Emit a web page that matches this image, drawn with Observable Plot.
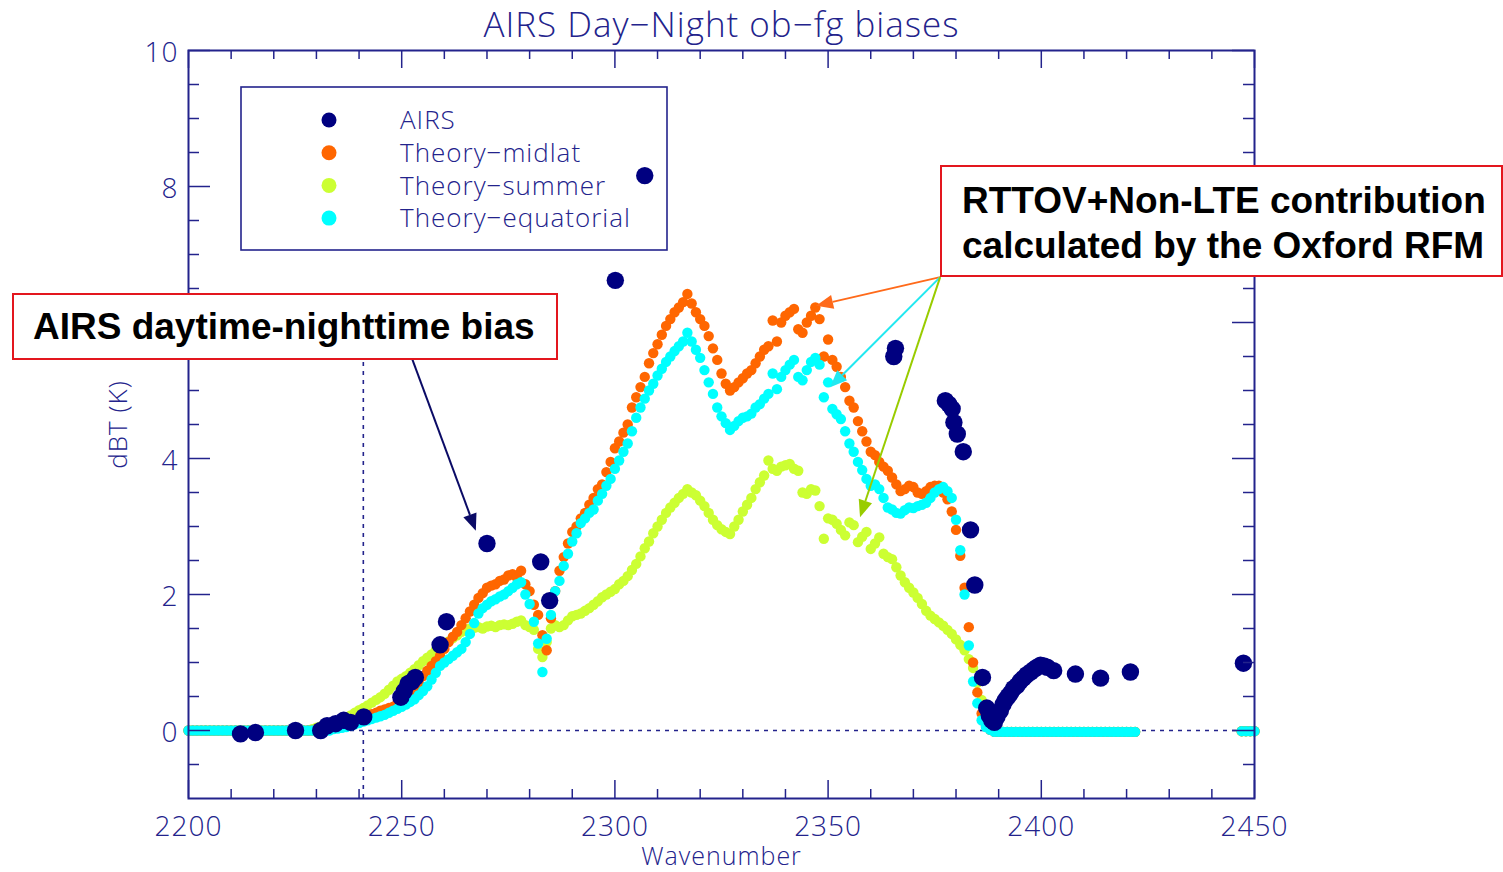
<!DOCTYPE html>
<html><head><meta charset="utf-8">
<script src="https://cdn.jsdelivr.net/npm/d3@7"></script>
<script src="https://cdn.jsdelivr.net/npm/@observablehq/plot@0.6"></script>
<style>
html,body{margin:0;padding:0;background:#fff;}
#wrap{position:relative;width:1503px;height:872px;overflow:hidden;}
#wrap svg{position:absolute;left:0;top:0;}
.note{position:absolute;background:#fff;border:2px solid #e3161e;box-sizing:border-box;font-family:'Liberation Sans',Arial,sans-serif;font-weight:bold;color:#000;font-size:37px;white-space:nowrap;}
</style></head><body><div id="wrap"></div>
<script>
// ---------- chart data ----------
const seriesNames = ["AIRS", "Theory−midlat", "Theory−summer", "Theory−equatorial"];
const seriesColors = ["#000080", "#ff6600", "#ccff33", "#00ffff"];

const theoryWn = [
2200,2201,2202,2203,2204,2205,2206,2207,2208,2209,
2210,2211,2212,2213,2214,2215,2216,2217,2218,2219,
2220,2221,2222,2223,2224,2225,2226,2227,2228,2229,
2230,2231,2232,2233,2234,2235,2236,2237,2238,2239,
2240,2241,2242,2243,2244,2245,2246,2247,2248,2249,
2250,2251,2252,2253,2254,2255,2256,2257,2258,2259,
2260,2261,2262,2263,2264,2265,2266,2267,2268,2269,
2270,2271,2272,2273,2274,2275,2276,2277,2278,2279,
2280,2281,2282,2283,2284,2285,2286,2287,2288,2289,
2290,2291,2292,2293,2294,2295,2296,2297,2298,2299,
2300,2301,2302,2303,2304,2305,2306,2307,2308,2309,
2310,2311,2312,2313,2314,2315,2316,2317,2318,2319,
2320,2321,2322,2323,2324,2325,2326,2327,2328,2329,
2330,2331,2332,2333,2334,2335,2336,2337,2338,2339,
2340,2341,2342,2343,2344,2345,2346,2347,2348,2349,
2350,2351,2352,2353,2354,2355,2356,2357,2358,2359,
2360,2361,2362,2363,2364,2365,2366,2367,2368,2369,
2370,2371,2372,2373,2374,2375,2376,2377,2378,2379,
2380,2381,2382,2383,2384,2385,2386,2387,2388,2389,
2390,2391,2392,2393,2394,2395,2396,2397,2398,2399,
2400,2401,2402,2403,2404,2405,2406,2407,2408,2409,
2410,2411,2412,2413,2414,2415,2416,2417,2418,2419,
2420,2421,2422,
2447,2448,2449,2450];

const midlatDbt = [
0,0,0,0,0,0,0,0,0,0,
0,0,0,0,0,0,0,0,0,0,
0,0,0,0,0,0,0,0,0,0,
0,0.01,0.02,0.03,0.05,0.07,0.09,0.11,0.13,0.15,
0.17,0.19,0.21,0.24,0.26,0.29,0.31,0.33,0.35,0.4,
0.45,0.5,0.55,0.62,0.7,0.8,0.88,0.95,1.02,1.1,
1.2,1.3,1.38,1.45,1.55,1.65,1.75,1.85,1.95,2.02,
2.1,2.13,2.15,2.2,2.22,2.28,2.3,2.25,2.35,2.15,
2.05,1.85,1.7,1.4,1.18,1.65,2.05,2.35,2.55,2.75,
2.92,3.0,3.12,3.2,3.32,3.42,3.55,3.62,3.8,3.95,
4.15,4.25,4.38,4.5,4.75,4.9,5.05,5.2,5.4,5.55,
5.68,5.82,5.95,6.05,6.15,6.22,6.3,6.42,6.28,6.15,
6.05,5.95,5.8,5.62,5.45,5.25,5.1,5.0,5.05,5.12,
5.18,5.25,5.3,5.4,5.5,5.6,5.65,6.03,5.72,6.0,
6.1,6.15,6.2,5.9,5.85,6.0,6.1,6.22,6.05,5.5,
5.75,5.45,5.35,5.2,5.05,4.85,4.75,4.55,4.4,4.25,
4.1,4.05,3.95,3.88,3.82,3.72,3.62,3.52,3.55,3.6,
3.58,3.5,3.48,3.52,3.58,3.6,3.6,3.5,3.4,3.22,
2.95,2.57,2.1,1.52,1.0,0.56,0.25,0.08,0.01,-0.02,
-0.02,-0.02,-0.02,-0.02,-0.02,-0.02,-0.02,-0.02,-0.02,-0.02,
-0.02,-0.02,-0.02,-0.02,-0.02,-0.02,-0.02,-0.02,-0.02,-0.02,
-0.02,-0.02,-0.02,-0.02,-0.02,-0.02,-0.02,-0.02,-0.02,-0.02,
-0.02,-0.02,-0.02,
-0.01,-0.01,-0.01,-0.01];

const summerDbt = [
0,0,0,0,0,0,0,0,0,0,
0,0,0,0,0,0,0,0,0,0,
0,0,0,0,0,0,0,0,0,0.02,
0.04,0.06,0.08,0.1,0.11,0.13,0.16,0.19,0.22,0.26,
0.3,0.33,0.37,0.41,0.45,0.49,0.54,0.6,0.66,0.72,
0.76,0.8,0.85,0.9,0.96,1.02,1.07,1.12,1.18,1.22,
1.27,1.31,1.36,1.4,1.45,1.49,1.5,1.51,1.52,1.5,
1.53,1.54,1.52,1.55,1.56,1.55,1.57,1.6,1.62,1.55,
1.52,1.48,1.2,1.08,1.3,1.5,1.55,1.52,1.55,1.62,
1.68,1.7,1.72,1.76,1.8,1.85,1.9,1.96,2.0,2.04,
2.08,2.15,2.2,2.27,2.36,2.45,2.56,2.68,2.78,2.9,
3.0,3.1,3.2,3.28,3.35,3.42,3.48,3.55,3.5,3.46,
3.38,3.3,3.2,3.1,3.02,2.96,2.92,2.89,3.0,3.1,
3.22,3.32,3.42,3.55,3.65,3.75,3.97,3.85,3.82,3.88,
3.9,3.92,3.85,3.82,3.5,3.48,3.55,3.53,3.3,2.82,
3.12,3.1,3.04,2.95,2.87,3.06,3.02,2.77,2.85,2.92,
2.67,2.75,2.84,2.6,2.55,2.52,2.4,2.28,2.18,2.1,
2.03,1.95,1.86,1.76,1.69,1.64,1.59,1.54,1.48,1.42,
1.34,1.26,1.18,1.05,0.92,0.7,0.45,0.22,0.08,0.0,
-0.02,-0.02,-0.02,-0.02,-0.02,-0.02,-0.02,-0.02,-0.02,-0.02,
-0.02,-0.02,-0.02,-0.02,-0.02,-0.02,-0.02,-0.02,-0.02,-0.02,
-0.02,-0.02,-0.02,-0.02,-0.02,-0.02,-0.02,-0.02,-0.02,-0.02,
-0.02,-0.02,-0.02,
-0.01,-0.01,-0.01,-0.01];

const equatorialDbt = [
0,0,0,0,0,0,0,0,0,0,
0,0,0,0,0,0,0,0,0,0,
0,0,0,0,0,0,0,0,0,0,
0,0,0,0,0.02,0.03,0.04,0.05,0.07,0.09,
0.11,0.13,0.15,0.17,0.19,0.21,0.23,0.26,0.29,0.32,
0.35,0.38,0.42,0.46,0.52,0.58,0.65,0.75,0.85,0.95,
1.0,1.05,1.1,1.15,1.2,1.3,1.42,1.58,1.72,1.8,
1.85,1.9,1.93,1.97,2.0,2.05,2.1,2.15,2.18,2.0,
1.86,1.6,1.28,0.86,1.35,1.7,2.05,2.2,2.42,2.6,
2.78,2.9,3.05,3.12,3.2,3.25,3.38,3.48,3.6,3.7,
3.85,3.97,4.1,4.22,4.4,4.6,4.75,4.88,5.0,5.1,
5.22,5.32,5.42,5.5,5.58,5.65,5.72,5.85,5.72,5.6,
5.48,5.3,5.12,4.95,4.75,4.62,4.52,4.42,4.48,4.55,
4.6,4.62,4.66,4.75,4.8,4.88,4.95,5.25,5.02,5.2,
5.3,5.38,5.45,5.2,5.15,5.3,5.42,5.48,5.38,4.9,
5.12,4.73,4.65,4.58,4.4,4.22,4.1,3.95,3.83,3.7,
3.6,3.62,3.55,3.42,3.28,3.25,3.2,3.19,3.24,3.28,
3.27,3.3,3.32,3.35,3.42,3.5,3.55,3.58,3.52,3.42,
3.1,2.65,2.0,1.25,0.72,0.4,0.15,0.05,0.01,-0.02,
-0.02,-0.02,-0.02,-0.02,-0.02,-0.02,-0.02,-0.02,-0.02,-0.02,
-0.02,-0.02,-0.02,-0.02,-0.02,-0.02,-0.02,-0.02,-0.02,-0.02,
-0.02,-0.02,-0.02,-0.02,-0.02,-0.02,-0.02,-0.02,-0.02,-0.02,
-0.02,-0.02,-0.02,
-0.01,-0.01,-0.01,-0.01];

const airsWn = [2212.2,2215.7,2225.1,2231.0,2232.5,2234.5,2236.4,2238.0,2241.1,
  2249.8,2250.6,2251.5,2252.4,2253.2,2259.0,2260.5,2270.0,2282.6,2284.7,
  2300.1,2307.0,2365.4,2365.8,2377.5,2378.3,2379.1,2379.5,2380.3,2381.7,
  2383.4,2384.4,2386.2,2387.2,2387.8,2388.4,2389.0,2389.6,2390.4,2391.0,
  2391.6,2392.2,2392.8,2393.5,2394.3,2395.0,2395.8,2396.6,2397.5,2398.3,
  2399.0,2399.8,2400.6,2401.4,2402.9,2408.0,2413.9,2420.9,2447.4];
const airsDbt = [-0.05,-0.03,0.0,0.0,0.07,0.1,0.15,0.12,0.2,
  0.49,0.58,0.69,0.72,0.78,1.26,1.6,2.75,2.48,1.91,
  6.62,8.16,5.5,5.62,4.85,4.8,4.73,4.53,4.36,4.1,
  2.95,2.14,0.78,0.33,0.22,0.15,0.12,0.2,0.29,0.38,
  0.45,0.5,0.55,0.62,0.66,0.72,0.77,0.82,0.86,0.9,
  0.93,0.96,0.95,0.93,0.88,0.83,0.77,0.86,0.99];

// axis ticks (the "6" label is hidden behind the annotation box in the reference)
const xMajorTicks = [2200,2250,2300,2350,2400,2450];
const xMinorTicks = [2210,2220,2230,2240,2260,2270,2280,2290,2310,2320,2330,2340,2360,2370,2380,2390,2410,2420,2430,2440];
const yMajorTicks = [0,2,4,6,8,10];
const yMinorTicks = [-0.5,0.5,1,1.5,2.5,3,3.5,4.5,5,5.5,6.5,7,7.5,8.5,9,9.5];
const yLabelTicks = [0,2,4,8,10];

// reference lines
const zeroLine = [0];
const refLineWn = [2241];
const refLineSpan = [-1, 5.5];

// text
const titleText = ["AIRS Day−Night ob−fg biases"];
const xLabel = ["Wavenumber"];
const yLabel = ["dBT (K)"];
const noteLeft = "AIRS daytime-nighttime bias";
const noteRight = ["RTTOV+Non-LTE contribution", "calculated by the Oxford RFM"];

// annotation arrows (data coordinates)
const arrowColors = ["#0b0b66", "#ff6a1a", "#22e8f0", "#99cc00"];
const arrowFromWn = [2252.5, 2376.4, 2376.4, 2376.4];
const arrowFromDbt = [5.47, 6.66, 6.66, 6.66];
const arrowToWn = [2267.5, 2347.3, 2350.6, 2357.6];
const arrowToDbt = [2.93, 6.24, 5.04, 3.13];

// ---------- build ----------
const navy = "#23238c";
const W = 1503, H = 872;
const mL = 188, mR = 249, mT = 50, mB = 74;
const innerW = W - mL - mR, innerH = H - mT - mB;

const mk = (arr) => theoryWn.map((w, i) => ({wn: w, dbt: arr[i]}));
const midlat = mk(midlatDbt), summer = mk(summerDbt), equatorial = mk(equatorialDbt);
const airs = airsWn.map((w, i) => ({wn: w, dbt: airsDbt[i]}));

const plot = Plot.plot({
  width: W, height: H,
  marginLeft: mL, marginRight: mR, marginTop: mT, marginBottom: mB,
  x: {domain: [2200, 2450], axis: null},
  y: {domain: [-1, 10], axis: null},
  style: {fontFamily: "'Open Sans', 'DejaVu Sans', sans-serif", fontSize: "28px", fontWeight: 300, background: "#fff", color: navy, letterSpacing: "1px"},
  marks: [
    Plot.ruleY(zeroLine, {stroke: navy, strokeWidth: 1.6, strokeDasharray: "4,5"}),
    Plot.ruleX(refLineWn, {y1: refLineSpan[0], y2: refLineSpan[1], stroke: navy, strokeWidth: 1.6, strokeDasharray: "4,5"}),
    Plot.dot(summer, {x: "wn", y: "dbt", r: 5.2, fill: seriesColors[2], stroke: "none"}),
    Plot.dot(midlat, {x: "wn", y: "dbt", r: 5.2, fill: seriesColors[1], stroke: "none"}),
    Plot.dot(equatorial, {x: "wn", y: "dbt", r: 5.2, fill: seriesColors[3], stroke: "none"}),
    Plot.dot(airs, {x: "wn", y: "dbt", r: 8.7, fill: seriesColors[0], stroke: "none"}),
    // inward ticks on all four sides
    Plot.ruleX(xMajorTicks, {stroke: navy, strokeWidth: 1.5, insetTop: innerH - 18}),
    Plot.ruleX(xMinorTicks, {stroke: navy, strokeWidth: 1.5, insetTop: innerH - 9}),
    Plot.ruleX(xMajorTicks, {stroke: navy, strokeWidth: 1.5, insetBottom: innerH - 18}),
    Plot.ruleX(xMinorTicks, {stroke: navy, strokeWidth: 1.5, insetBottom: innerH - 9}),
    Plot.ruleY(yMajorTicks, {stroke: navy, strokeWidth: 1.5, insetRight: innerW - 22}),
    Plot.ruleY(yMinorTicks, {stroke: navy, strokeWidth: 1.5, insetRight: innerW - 11}),
    Plot.ruleY(yMajorTicks, {stroke: navy, strokeWidth: 1.5, insetLeft: innerW - 22}),
    Plot.ruleY(yMinorTicks, {stroke: navy, strokeWidth: 1.5, insetLeft: innerW - 11}),
    Plot.frame({stroke: navy, strokeWidth: 2}),
    Plot.axisX({ticks: xMajorTicks, tickSize: 0, tickPadding: 18, tickFormat: d3.format("d"), label: null, color: navy, fontSize: 28}),
    Plot.axisY({ticks: yLabelTicks, tickSize: 0, tickPadding: 10, tickFormat: d3.format("d"), label: null, color: navy, fontSize: 28, dy: 3}),
    Plot.text(titleText, {frameAnchor: "top", lineAnchor: "middle", textAnchor: "middle", dy: -25, fontSize: 35, fill: navy, letterSpacing: "1.8px"}),
    Plot.text(xLabel, {frameAnchor: "bottom", lineAnchor: "middle", textAnchor: "middle", dy: 58, fontSize: 25, fill: navy}),
    Plot.text(yLabel, {frameAnchor: "left", lineAnchor: "middle", textAnchor: "middle", dx: -70, rotate: -90, fontSize: 26, fill: navy})
  ]
});

const wrap = document.getElementById("wrap");
wrap.appendChild(plot);

const sx = plot.scale("x"), sy = plot.scale("y");
const svg = d3.select(plot);

// legend (inside the frame)
const lg = svg.append("g");
lg.append("rect").attr("x", 241).attr("y", 87).attr("width", 426).attr("height", 163)
  .attr("fill", "none").attr("stroke", navy).attr("stroke-width", 1.6);
seriesNames.forEach((name, i) => {
  const cy = 120 + i * 32.7;
  lg.append("circle").attr("cx", 329).attr("cy", cy).attr("r", 7.5).attr("fill", seriesColors[i]);
  lg.append("text").attr("x", 400).attr("y", cy).attr("dy", "0.35em").attr("fill", navy)
    .attr("text-anchor", "start").attr("font-size", 26).text(name);
});

// arrows
const ag = svg.append("g");
arrowColors.forEach((c, i) => {
  const x1 = sx.apply(arrowFromWn[i]), y1 = sy.apply(arrowFromDbt[i]);
  const x2 = sx.apply(arrowToWn[i]), y2 = sy.apply(arrowToDbt[i]);
  const dx = x2 - x1, dy = y2 - y1, L = Math.hypot(dx, dy);
  const ux = dx / L, uy = dy / L, hl = 17, hw = 7;
  const bx = x2 - ux * hl, by = y2 - uy * hl;
  ag.append("line").attr("x1", x1).attr("y1", y1).attr("x2", bx).attr("y2", by)
    .attr("stroke", c).attr("stroke-width", 2);
  ag.append("path").attr("d", `M${x2},${y2}L${bx - uy * hw},${by + ux * hw}L${bx + uy * hw},${by - ux * hw}Z`)
    .attr("fill", c);
});

// annotation boxes
const n1 = document.createElement("div");
n1.className = "note";
Object.assign(n1.style, {left: "12px", top: "293px", width: "546px", height: "67px", lineHeight: "63px", paddingLeft: "19px"});
n1.textContent = noteLeft;
wrap.appendChild(n1);

const n2 = document.createElement("div");
n2.className = "note";
Object.assign(n2.style, {left: "940px", top: "165px", width: "563px", height: "112px", lineHeight: "45px", paddingLeft: "20px", paddingTop: "11px"});
n2.innerHTML = noteRight.join("<br>");
wrap.appendChild(n2);
</script>
</body></html>
